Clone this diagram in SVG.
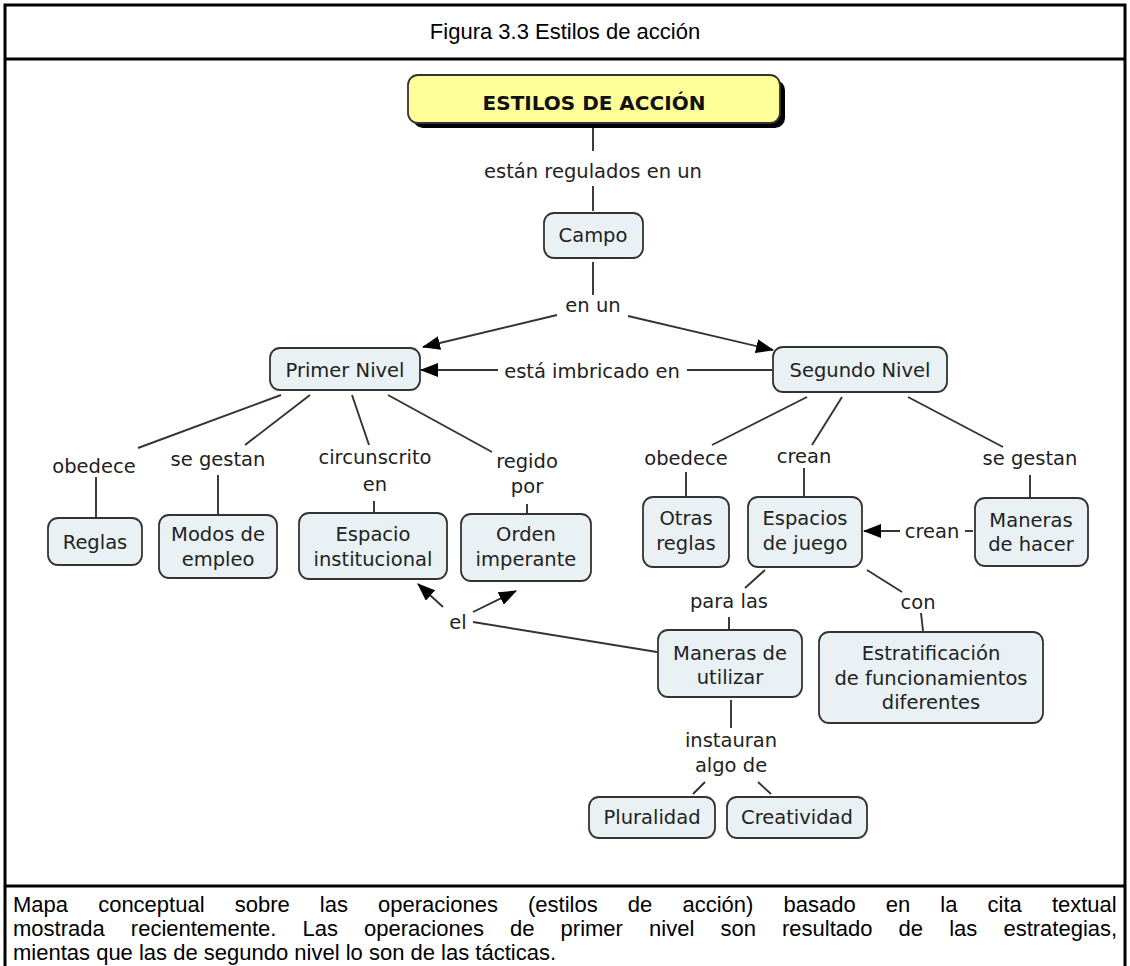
<svg xmlns="http://www.w3.org/2000/svg" width="1130" height="966" viewBox="0 0 1130 966">
<defs>
<marker id="ah" viewBox="0 0 18 14" refX="17" refY="7" markerWidth="18" markerHeight="14" markerUnits="userSpaceOnUse" orient="auto">
<path d="M0,0 L18,7 L0,14 Z" fill="#000"/>
</marker>
</defs>
<style>
.frame{fill:none;stroke:#000;stroke-width:3}
.node{fill:#e9f1f5;stroke:#333;stroke-width:1.8}
.root{fill:#ffff99;stroke:#333;stroke-width:1.8}
.t{font-family:"DejaVu Sans",Verdana,sans-serif;font-size:19.5px;fill:#222;text-anchor:middle}
.tb{font-family:"DejaVu Sans",Verdana,sans-serif;font-size:20px;font-weight:bold;fill:#111;text-anchor:middle}
.c line{stroke:#333;stroke-width:1.9}
.a{marker-end:url(#ah)}
.cap{font-family:"Liberation Sans",Arial,sans-serif;font-size:22px;fill:#000}
.title{font-family:"Liberation Sans",Arial,sans-serif;font-size:22px;fill:#000;text-anchor:middle}
</style>
<rect width="1130" height="966" fill="#fff"/>
<path class="frame" d="M5,966 V5 H1125 V966"/>
<line x1="5" y1="59" x2="1125" y2="59" stroke="#000" stroke-width="3"/>
<line x1="5" y1="886" x2="1125" y2="886" stroke="#000" stroke-width="3"/>
<text class="title" x="565" y="39">Figura 3.3 Estilos de acción</text>

<g class="c" id="connectors">
<line x1="593" y1="128" x2="593" y2="151"/>
<line x1="593" y1="186" x2="593" y2="211"/>
<line x1="593" y1="262" x2="593" y2="295"/>
<line class="a" x1="557" y1="315" x2="423" y2="347"/>
<line class="a" x1="628" y1="316" x2="773" y2="350"/>
<line x1="772" y1="370" x2="687" y2="370"/>
<line class="a" x1="498" y1="370" x2="421" y2="370"/>
<line x1="281" y1="395" x2="138" y2="448"/>
<line x1="96" y1="477" x2="96" y2="517"/>
<line x1="310" y1="395" x2="245" y2="445"/>
<line x1="218" y1="475" x2="218" y2="514"/>
<line x1="352" y1="395" x2="369" y2="445"/>
<line x1="374" y1="501" x2="374" y2="512"/>
<line x1="388" y1="395" x2="492" y2="452"/>
<line x1="527" y1="504" x2="527" y2="513"/>
<line x1="807" y1="397" x2="712" y2="445"/>
<line x1="686" y1="472" x2="686" y2="496"/>
<line x1="842" y1="397" x2="812" y2="445"/>
<line x1="804" y1="468" x2="804" y2="496"/>
<line x1="908" y1="397" x2="1003" y2="447"/>
<line x1="1030" y1="475" x2="1030" y2="497"/>
<line x1="973" y1="531" x2="965" y2="531"/>
<line class="a" x1="900" y1="531" x2="864" y2="531"/>
<line x1="765" y1="570" x2="745" y2="588"/>
<line x1="729" y1="617" x2="729" y2="629"/>
<line x1="867" y1="570" x2="902" y2="592"/>
<line x1="921" y1="613" x2="923" y2="631"/>
<line x1="731" y1="700" x2="731" y2="728"/>
<line x1="705" y1="782" x2="693" y2="794"/>
<line x1="758" y1="782" x2="771" y2="794"/>
<line x1="657" y1="652" x2="473" y2="622"/>
<line class="a" x1="443" y1="607" x2="418" y2="584"/>
<line class="a" x1="473" y1="612" x2="516" y2="591"/>
</g>

<g id="labels">
<text class="t" x="593" y="178">están regulados en un</text>
<text class="t" x="593" y="312">en un</text>
<text class="t" x="592" y="378">está imbricado en</text>
<text class="t" x="94" y="473">obedece</text>
<text class="t" x="218" y="466">se gestan</text>
<text class="t" x="375" y="464">circunscrito</text>
<text class="t" x="375" y="491">en</text>
<text class="t" x="527" y="468">regido</text>
<text class="t" x="527" y="493">por</text>
<text class="t" x="686" y="465">obedece</text>
<text class="t" x="804" y="463">crean</text>
<text class="t" x="1030" y="465">se gestan</text>
<text class="t" x="932" y="538">crean</text>
<text class="t" x="729" y="608">para las</text>
<text class="t" x="918" y="609">con</text>
<text class="t" x="731" y="747">instauran</text>
<text class="t" x="731" y="772">algo de</text>
<text class="t" x="458" y="629">el</text>
</g>

<g id="n-root">
<rect x="413" y="80" width="372" height="48" rx="10" fill="#000"/>
<rect class="root" x="408" y="75" width="372" height="48" rx="10"/>
<text class="tb" x="594" y="110">ESTILOS DE ACCIÓN</text>
</g>
<g id="n-campo"><rect class="node" x="544" y="213" width="99" height="45" rx="10"/><text class="t" x="593" y="242">Campo</text></g>
<g id="n-primer"><rect class="node" x="270" y="348" width="150" height="42" rx="10"/><text class="t" x="345" y="377">Primer Nivel</text></g>
<g id="n-segundo"><rect class="node" x="773" y="347" width="174" height="45" rx="10"/><text class="t" x="860" y="377">Segundo Nivel</text></g>
<g id="n-reglas"><rect class="node" x="48" y="518" width="94" height="47" rx="10"/><text class="t" x="95" y="549">Reglas</text></g>
<g id="n-modos"><rect class="node" x="159" y="515" width="118" height="63" rx="10"/><text class="t" x="218" y="541">Modos de</text><text class="t" x="218" y="566">empleo</text></g>
<g id="n-espacio"><rect class="node" x="299" y="513" width="148" height="66" rx="10"/><text class="t" x="373" y="541">Espacio</text><text class="t" x="373" y="566">institucional</text></g>
<g id="n-orden"><rect class="node" x="461" y="514" width="130" height="67" rx="10"/><text class="t" x="526" y="541">Orden</text><text class="t" x="526" y="566">imperante</text></g>
<g id="n-otras"><rect class="node" x="643" y="497" width="86" height="70" rx="10"/><text class="t" x="686" y="525">Otras</text><text class="t" x="686" y="550">reglas</text></g>
<g id="n-espacios"><rect class="node" x="748" y="497" width="114" height="70" rx="10"/><text class="t" x="805" y="525">Espacios</text><text class="t" x="805" y="550">de juego</text></g>
<g id="n-hacer"><rect class="node" x="975" y="498" width="113" height="68" rx="10"/><text class="t" x="1031" y="527">Maneras</text><text class="t" x="1031" y="551">de hacer</text></g>
<g id="n-utilizar"><rect class="node" x="658" y="630" width="144" height="67" rx="10"/><text class="t" x="730" y="660">Maneras de</text><text class="t" x="730" y="684">utilizar</text></g>
<g id="n-estrat"><rect class="node" x="819" y="632" width="224" height="91" rx="10"/><text class="t" x="931" y="660">Estratificación</text><text class="t" x="931" y="685">de funcionamientos</text><text class="t" x="931" y="709">diferentes</text></g>
<g id="n-plural"><rect class="node" x="589" y="797" width="126" height="41" rx="10"/><text class="t" x="652" y="824">Pluralidad</text></g>
<g id="n-creat"><rect class="node" x="727" y="797" width="140" height="41" rx="10"/><text class="t" x="797" y="824">Creatividad</text></g>

<g id="caption">
<text class="cap" x="13" y="912" word-spacing="24">Mapa conceptual sobre las operaciones (estilos de acción) basado en la cita textual</text>
<text class="cap" x="13" y="936" word-spacing="20">mostrada recientemente. Las operaciones de primer nivel son resultado de las estrategias,</text>
<text class="cap" x="13" y="960">mientas que las de segundo nivel lo son de las tácticas.</text>
</g>
</svg>
